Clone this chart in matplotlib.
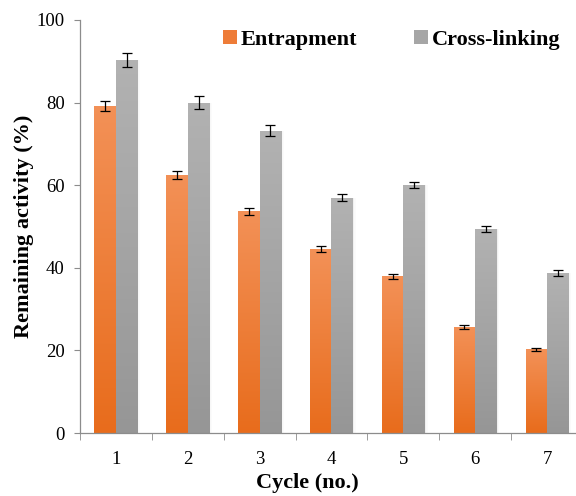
import numpy as np
import matplotlib.pyplot as plt
from matplotlib.patches import Patch
from matplotlib.colors import LinearSegmentedColormap

plt.rcParams['font.family'] = ['Liberation Serif', 'DejaVu Serif']

cycles = [1, 2, 3, 4, 5, 6, 7]
entrap = [79.2, 62.5, 53.7, 44.5, 38.0, 25.7, 20.3]
entrap_err = [1.2, 1.0, 0.8, 0.7, 0.6, 0.5, 0.4]
cross = [90.3, 80.0, 73.2, 57.0, 60.0, 49.4, 38.8]
cross_err = [1.8, 1.6, 1.3, 0.9, 0.7, 0.8, 0.7]

orange = LinearSegmentedColormap.from_list('or', ['#E86C1C', '#F39157'])
grey = LinearSegmentedColormap.from_list('gr', ['#969696', '#B2B2B2'])

fig = plt.figure(figsize=(5.76, 4.96), dpi=100)
ax = fig.add_axes([80/576, 1-433/496, 503/576, 413/496])

w = 0.3
x = np.array(cycles, dtype=float)
grad = np.linspace(0, 1, 256).reshape(-1, 1)

def grad_bars(xs, vals, cmap, shadow=False):
    bars = ax.bar(xs, vals, w, color=cmap(0.5), zorder=2)
    for b in bars:
        x0, y0 = b.get_x(), b.get_y()
        im = ax.imshow(grad, cmap=cmap, aspect='auto', origin='lower',
                       extent=[x0, x0 + b.get_width(), y0, y0 + b.get_height()],
                       zorder=2)
        im.set_clip_path(b)
        if shadow:
            # soft shadow on the right edge
            for k in range(1, 5):
                ax.bar(x0 + b.get_width() + 0.008*k - 0.004, b.get_height(), 0.008,
                       align='edge', color='k', alpha=0.06/k, lw=0, zorder=1.5)
    return bars

grad_bars(x - w/2, entrap, orange)
grad_bars(x + w/2, cross, grey, shadow=True)
ax.errorbar(x - w/2, entrap, yerr=entrap_err, fmt='none', ecolor='k',
            elinewidth=0.9, capsize=3.5, capthick=0.9, zorder=3)
ax.errorbar(x + w/2, cross, yerr=cross_err, fmt='none', ecolor='k',
            elinewidth=0.9, capsize=3.5, capthick=0.9, zorder=3)

ax.set_xlim(0.5, 7.5)
ax.set_ylim(0, 100)
ax.set_yticks([0, 20, 40, 60, 80, 100])
ax.set_xticks(x)
ax.set_xticks(np.arange(0.5, 8, 1), minor=True)
ax.tick_params(axis='x', which='major', length=0, pad=13, labelsize=13.5)
ax.tick_params(axis='x', which='minor', length=5, color='#8C8C8C')
ax.tick_params(axis='y', length=4, color='#8C8C8C', labelsize=13.5, pad=7)
for s in ['top', 'right']:
    ax.spines[s].set_visible(False)
for s in ['left', 'bottom']:
    ax.spines[s].set_color('#8C8C8C')
    ax.spines[s].set_linewidth(0.9)

ax.set_ylabel('Remaining activity (%)', fontsize=16, fontweight='bold', labelpad=2)
fig.text(307/576, 1-483/496, 'Cycle (no.)', ha='center', va='center',
         fontsize=16, fontweight='bold')

handles = [Patch(facecolor='#EE7C38', label='Entrapment'),
           Patch(facecolor='#A6A6A6', label='Cross-linking')]
ax.legend(handles=handles, ncol=2, frameon=False, loc='center',
          bbox_to_anchor=(392/576, 1-40/496), bbox_transform=fig.transFigure,
          prop={'weight': 'bold', 'size': 16}, handlelength=0.6, handleheight=0.6,
          handletextpad=0.2, columnspacing=2.55)

fig.savefig('out.png', dpi=100)
